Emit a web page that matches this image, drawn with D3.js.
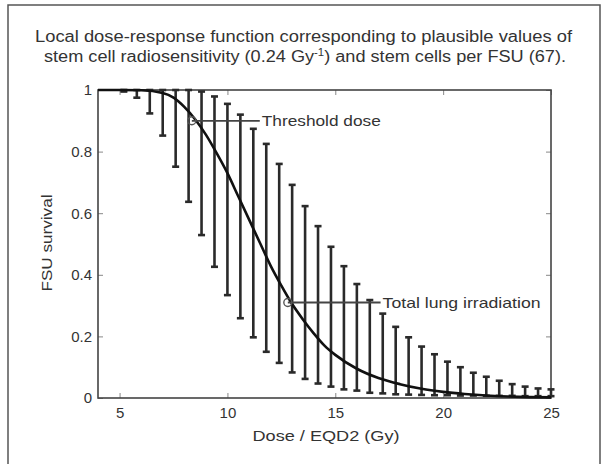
<!DOCTYPE html>
<html>
<head>
<meta charset="utf-8">
<script src="https://cdn.jsdelivr.net/npm/d3@7"></script>
<style>
  html, body { margin: 0; padding: 0; background: #fff; }
  svg { display: block; }
  text { font-family: "Liberation Sans", Arial, sans-serif; fill: #333; }
</style>
</head>
<body>
<svg id="chart" width="608" height="464"></svg>
<script>
// ---- data ----
const barDoses = [5.2, 5.8, 6.4, 7.0, 7.6, 8.2, 8.8, 9.4, 10.0, 10.6, 11.2, 11.8, 12.4, 13.0, 13.6, 14.2, 14.8,
  15.4, 16.0, 16.6, 17.2, 17.8, 18.4, 19.0, 19.6, 20.2, 20.8, 21.4, 22.0, 22.6, 23.2, 23.8, 24.4, 25.0];
const barUpper = [1, 1, 1, 1, 1, 1, 0.995, 0.979, 0.955, 0.92, 0.874, 0.825, 0.76, 0.692, 0.623, 0.558, 0.491,
  0.428, 0.370, 0.318, 0.274, 0.231, 0.197, 0.167, 0.142, 0.118, 0.100, 0.082, 0.069, 0.056, 0.045, 0.037, 0.031, 0.028];
const barLower = [0.995, 0.975, 0.924, 0.852, 0.751, 0.637, 0.529, 0.426, 0.334, 0.259, 0.197, 0.150, 0.114, 0.083,
  0.062, 0.047, 0.037, 0.028, 0.024, 0.017, 0.015, 0.012, 0.011, 0.010, 0.009, 0.009, 0.008, 0.008, 0.007, 0.007,
  0.007, 0.006, 0.006, 0.006];
const curveDoses = [4, 5, 6, 7, 7.5, 8, 8.5, 9, 9.5, 10, 10.5, 11, 11.5, 12, 12.5, 13, 13.5, 14, 14.5, 15,
  16, 17, 18, 19, 20, 21, 22, 23, 24, 25];
const curveValues = [1, 1, 0.999, 0.99, 0.975, 0.945, 0.905, 0.855, 0.795, 0.73, 0.655, 0.58, 0.505, 0.43,
  0.365, 0.305, 0.255, 0.21, 0.17, 0.14, 0.095, 0.065, 0.045, 0.03, 0.02, 0.013, 0.008, 0.005, 0.003, 0.002];
const annotLabels = ["Threshold dose", "Total lung irradiation"];
const annotDose = [8.35, 12.8];
const annotValue = [0.90, 0.31];
const annotEndDose = [11.5, 17.1];
const xTicks = [5, 10, 15, 20, 25];
const yTicks = [0, 0.2, 0.4, 0.6, 0.8, 1];
const yTickLabels = ["0", "0.2", "0.4", "0.6", "0.8", "1"];
const titleLines = ["Local dose-response function corresponding to plausible values of",
  "stem cell radiosensitivity (0.24 Gy", "-1", ") and stem cells per FSU (67)."];
const xLabel = "Dose / EQD2 (Gy)";
const yLabel = "FSU survival";

// ---- layout ----
const svg = d3.select("#chart");
const L = 98, R = 551, T = 90, B = 398;
const x = d3.scaleLinear().domain([4, 25]).range([L, R]);
const y = d3.scaleLinear().domain([0, 1]).range([B, T]);

// outer frame
svg.append("rect").attr("x", 8).attr("y", 5).attr("width", 592).attr("height", 480)
  .attr("fill", "none").attr("stroke", "#555").attr("stroke-width", 1.5);

// title
svg.append("text").attr("x", 35).attr("y", 42).attr("font-size", 16)
  .attr("textLength", 537).attr("lengthAdjust", "spacingAndGlyphs").text(titleLines[0]);
const t2 = svg.append("text").attr("x", 44).attr("y", 62).attr("font-size", 16)
  .attr("textLength", 522).attr("lengthAdjust", "spacingAndGlyphs");
t2.append("tspan").text(titleLines[1]);
t2.append("tspan").attr("font-size", 10).attr("dy", -6).text(titleLines[2]);
t2.append("tspan").attr("dy", 6).text(titleLines[3]);

// axes
const gx = svg.append("g").attr("transform", `translate(0,${B})`)
  .call(d3.axisBottom(x).tickValues(xTicks).tickSize(-5).tickPadding(9).tickFormat(d3.format("d")));
const gxt = svg.append("g").attr("transform", `translate(0,${T})`)
  .call(d3.axisTop(x).tickValues(xTicks).tickSize(-5).tickFormat(""));
const gy = svg.append("g").attr("transform", `translate(${L},0)`)
  .call(d3.axisLeft(y).tickValues(yTicks).tickSize(-5).tickPadding(6).tickFormat((d, i) => yTickLabels[i]));
const gyr = svg.append("g").attr("transform", `translate(${R},0)`)
  .call(d3.axisRight(y).tickValues(yTicks).tickSize(-5).tickFormat(""));
[gx, gxt, gy, gyr].forEach(g => {
  g.select(".domain").remove();
  g.selectAll(".tick line").attr("stroke", "#888").attr("stroke-width", 1);
  g.selectAll(".tick text").attr("font-size", 15).attr("fill", "#333")
    .attr("font-family", "'Liberation Sans', Arial, sans-serif");
});

// plot frame
svg.append("rect").attr("x", L).attr("y", T).attr("width", R - L).attr("height", B - T)
  .attr("fill", "none").attr("stroke", "#444").attr("stroke-width", 1.6);

// error bars
const cap = 3.5;
const bars = svg.append("g").attr("stroke", "#2a2a2a").attr("stroke-width", 2.6);
barDoses.forEach((d, i) => {
  const xi = x(d), yu = y(barUpper[i]), yl = y(barLower[i]);
  bars.append("line").attr("x1", xi).attr("x2", xi).attr("y1", yu).attr("y2", yl);
  bars.append("line").attr("x1", xi - cap).attr("x2", xi + cap).attr("y1", yu).attr("y2", yu);
  bars.append("line").attr("x1", xi - cap).attr("x2", xi + cap).attr("y1", yl).attr("y2", yl);
});

// curve
const line = d3.line().x((d, i) => x(curveDoses[i])).y(d => y(d)).curve(d3.curveMonotoneX);
svg.append("path").datum(curveValues).attr("d", line)
  .attr("fill", "none").attr("stroke", "#111").attr("stroke-width", 2.6);

// annotations
const annotWidths = [119, 158];
annotLabels.forEach((lab, i) => {
  const x0 = x(annotDose[i]), x1 = x(annotEndDose[i]), yy = y(annotValue[i]);
  svg.append("line").attr("x1", x0).attr("x2", x1).attr("y1", yy).attr("y2", yy)
    .attr("stroke", "#444").attr("stroke-width", 1.8);
  svg.append("circle").attr("cx", x0).attr("cy", yy).attr("r", 4)
    .attr("fill", "none").attr("stroke", "#555").attr("stroke-width", 1.4);
  svg.append("text").attr("x", x1 + 2).attr("y", yy + 5).attr("font-size", 15)
    .attr("textLength", annotWidths[i]).attr("lengthAdjust", "spacingAndGlyphs").text(lab);
});

// axis labels
svg.append("text").attr("x", 326).attr("y", 441).attr("text-anchor", "middle").attr("font-size", 15)
  .attr("textLength", 147).attr("lengthAdjust", "spacingAndGlyphs").text(xLabel);
svg.append("text").attr("transform", "translate(52,243) rotate(-90)").attr("text-anchor", "middle")
  .attr("font-size", 15).attr("textLength", 97).attr("lengthAdjust", "spacingAndGlyphs").text(yLabel);
</script>
</body>
</html>
